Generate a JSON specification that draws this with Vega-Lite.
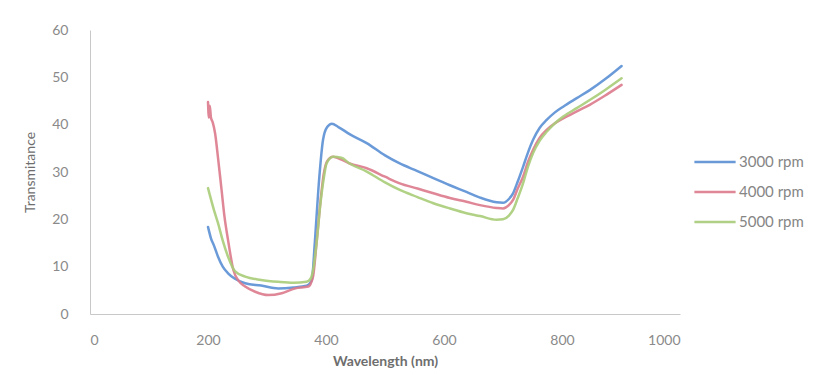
{
  "$schema": "https://vega.github.io/schema/vega-lite/v6.json",
  "autosize": {"type": "none"},
  "width": 590,
  "height": 284,
  "padding": {"left": 90, "top": 30, "right": 148, "bottom": 61},
  "background": "white",
  "config": {
    "view": {"stroke": null},
    "font": "Lato",
    "axis": {"grid": false, "domainColor": "#c8c8c8", "domainWidth": 1, "ticks": false, "labelColor": "#8a8a8a", "labelFontSize": 14, "titleColor": "#6e6e6e", "titleFontSize": 14}
  },
  "data": {
    "values": [
      {"wl": 200, "T": 18.4, "s": "3000 rpm"},
      {"wl": 205, "T": 16.0, "s": "3000 rpm"},
      {"wl": 210, "T": 14.5, "s": "3000 rpm"},
      {"wl": 217, "T": 12.1, "s": "3000 rpm"},
      {"wl": 225, "T": 10.0, "s": "3000 rpm"},
      {"wl": 234, "T": 8.6, "s": "3000 rpm"},
      {"wl": 245, "T": 7.5, "s": "3000 rpm"},
      {"wl": 263, "T": 6.5, "s": "3000 rpm"},
      {"wl": 290, "T": 6.0, "s": "3000 rpm"},
      {"wl": 319, "T": 5.4, "s": "3000 rpm"},
      {"wl": 345, "T": 5.6, "s": "3000 rpm"},
      {"wl": 367, "T": 6.0, "s": "3000 rpm"},
      {"wl": 376, "T": 7.2, "s": "3000 rpm"},
      {"wl": 381, "T": 15.0, "s": "3000 rpm"},
      {"wl": 387, "T": 26.2, "s": "3000 rpm"},
      {"wl": 395, "T": 36.8, "s": "3000 rpm"},
      {"wl": 402, "T": 39.5, "s": "3000 rpm"},
      {"wl": 410, "T": 40.2, "s": "3000 rpm"},
      {"wl": 421, "T": 39.5, "s": "3000 rpm"},
      {"wl": 440, "T": 38.0, "s": "3000 rpm"},
      {"wl": 469, "T": 36.1, "s": "3000 rpm"},
      {"wl": 500, "T": 33.5, "s": "3000 rpm"},
      {"wl": 525, "T": 31.8, "s": "3000 rpm"},
      {"wl": 555, "T": 30.2, "s": "3000 rpm"},
      {"wl": 582, "T": 28.7, "s": "3000 rpm"},
      {"wl": 610, "T": 27.2, "s": "3000 rpm"},
      {"wl": 638, "T": 25.8, "s": "3000 rpm"},
      {"wl": 661, "T": 24.6, "s": "3000 rpm"},
      {"wl": 689, "T": 23.6, "s": "3000 rpm"},
      {"wl": 700, "T": 23.5, "s": "3000 rpm"},
      {"wl": 710, "T": 24.3, "s": "3000 rpm"},
      {"wl": 717, "T": 25.5, "s": "3000 rpm"},
      {"wl": 725, "T": 28.0, "s": "3000 rpm"},
      {"wl": 734, "T": 31.1, "s": "3000 rpm"},
      {"wl": 742, "T": 34.0, "s": "3000 rpm"},
      {"wl": 751, "T": 36.8, "s": "3000 rpm"},
      {"wl": 762, "T": 39.3, "s": "3000 rpm"},
      {"wl": 774, "T": 41.0, "s": "3000 rpm"},
      {"wl": 788, "T": 42.6, "s": "3000 rpm"},
      {"wl": 802, "T": 43.8, "s": "3000 rpm"},
      {"wl": 825, "T": 45.6, "s": "3000 rpm"},
      {"wl": 847, "T": 47.3, "s": "3000 rpm"},
      {"wl": 875, "T": 49.8, "s": "3000 rpm"},
      {"wl": 901, "T": 52.4, "s": "3000 rpm"},

      {"wl": 200, "T": 44.8, "s": "4000 rpm"},
      {"wl": 201.5, "T": 41.5, "s": "4000 rpm"},
      {"wl": 203, "T": 44.0, "s": "4000 rpm"},
      {"wl": 205, "T": 41.5, "s": "4000 rpm"},
      {"wl": 208, "T": 40.5, "s": "4000 rpm"},
      {"wl": 212, "T": 38.2, "s": "4000 rpm"},
      {"wl": 217, "T": 33.0, "s": "4000 rpm"},
      {"wl": 223, "T": 26.2, "s": "4000 rpm"},
      {"wl": 228, "T": 20.5, "s": "4000 rpm"},
      {"wl": 234, "T": 15.6, "s": "4000 rpm"},
      {"wl": 243, "T": 9.3, "s": "4000 rpm"},
      {"wl": 252, "T": 7.0, "s": "4000 rpm"},
      {"wl": 263, "T": 5.8, "s": "4000 rpm"},
      {"wl": 280, "T": 4.7, "s": "4000 rpm"},
      {"wl": 302, "T": 4.0, "s": "4000 rpm"},
      {"wl": 325, "T": 4.4, "s": "4000 rpm"},
      {"wl": 347, "T": 5.4, "s": "4000 rpm"},
      {"wl": 370, "T": 5.8, "s": "4000 rpm"},
      {"wl": 378, "T": 7.9, "s": "4000 rpm"},
      {"wl": 384, "T": 15.0, "s": "4000 rpm"},
      {"wl": 390, "T": 23.0, "s": "4000 rpm"},
      {"wl": 396, "T": 29.5, "s": "4000 rpm"},
      {"wl": 402, "T": 32.3, "s": "4000 rpm"},
      {"wl": 412, "T": 33.2, "s": "4000 rpm"},
      {"wl": 425, "T": 32.7, "s": "4000 rpm"},
      {"wl": 440, "T": 31.8, "s": "4000 rpm"},
      {"wl": 469, "T": 30.8, "s": "4000 rpm"},
      {"wl": 500, "T": 29.0, "s": "4000 rpm"},
      {"wl": 525, "T": 27.6, "s": "4000 rpm"},
      {"wl": 555, "T": 26.5, "s": "4000 rpm"},
      {"wl": 582, "T": 25.5, "s": "4000 rpm"},
      {"wl": 610, "T": 24.5, "s": "4000 rpm"},
      {"wl": 638, "T": 23.7, "s": "4000 rpm"},
      {"wl": 661, "T": 23.0, "s": "4000 rpm"},
      {"wl": 689, "T": 22.4, "s": "4000 rpm"},
      {"wl": 700, "T": 22.3, "s": "4000 rpm"},
      {"wl": 710, "T": 23.0, "s": "4000 rpm"},
      {"wl": 717, "T": 24.1, "s": "4000 rpm"},
      {"wl": 725, "T": 26.5, "s": "4000 rpm"},
      {"wl": 734, "T": 29.0, "s": "4000 rpm"},
      {"wl": 742, "T": 32.0, "s": "4000 rpm"},
      {"wl": 751, "T": 34.7, "s": "4000 rpm"},
      {"wl": 762, "T": 37.2, "s": "4000 rpm"},
      {"wl": 774, "T": 38.9, "s": "4000 rpm"},
      {"wl": 788, "T": 40.3, "s": "4000 rpm"},
      {"wl": 802, "T": 41.3, "s": "4000 rpm"},
      {"wl": 825, "T": 42.8, "s": "4000 rpm"},
      {"wl": 847, "T": 44.2, "s": "4000 rpm"},
      {"wl": 875, "T": 46.3, "s": "4000 rpm"},
      {"wl": 901, "T": 48.4, "s": "4000 rpm"},

      {"wl": 200, "T": 26.6, "s": "5000 rpm"},
      {"wl": 210, "T": 22.0, "s": "5000 rpm"},
      {"wl": 217, "T": 19.2, "s": "5000 rpm"},
      {"wl": 225, "T": 15.5, "s": "5000 rpm"},
      {"wl": 234, "T": 12.1, "s": "5000 rpm"},
      {"wl": 246, "T": 9.0, "s": "5000 rpm"},
      {"wl": 263, "T": 7.9, "s": "5000 rpm"},
      {"wl": 290, "T": 7.2, "s": "5000 rpm"},
      {"wl": 319, "T": 6.8, "s": "5000 rpm"},
      {"wl": 345, "T": 6.6, "s": "5000 rpm"},
      {"wl": 367, "T": 6.8, "s": "5000 rpm"},
      {"wl": 374, "T": 7.5, "s": "5000 rpm"},
      {"wl": 378, "T": 9.2, "s": "5000 rpm"},
      {"wl": 384, "T": 15.0, "s": "5000 rpm"},
      {"wl": 390, "T": 22.7, "s": "5000 rpm"},
      {"wl": 396, "T": 28.5, "s": "5000 rpm"},
      {"wl": 401, "T": 31.8, "s": "5000 rpm"},
      {"wl": 412, "T": 33.2, "s": "5000 rpm"},
      {"wl": 426, "T": 33.0, "s": "5000 rpm"},
      {"wl": 440, "T": 31.8, "s": "5000 rpm"},
      {"wl": 469, "T": 30.1, "s": "5000 rpm"},
      {"wl": 500, "T": 27.8, "s": "5000 rpm"},
      {"wl": 525, "T": 26.2, "s": "5000 rpm"},
      {"wl": 555, "T": 24.7, "s": "5000 rpm"},
      {"wl": 582, "T": 23.4, "s": "5000 rpm"},
      {"wl": 610, "T": 22.3, "s": "5000 rpm"},
      {"wl": 638, "T": 21.3, "s": "5000 rpm"},
      {"wl": 661, "T": 20.7, "s": "5000 rpm"},
      {"wl": 689, "T": 19.9, "s": "5000 rpm"},
      {"wl": 700, "T": 20.0, "s": "5000 rpm"},
      {"wl": 710, "T": 20.8, "s": "5000 rpm"},
      {"wl": 717, "T": 22.0, "s": "5000 rpm"},
      {"wl": 725, "T": 24.5, "s": "5000 rpm"},
      {"wl": 734, "T": 27.6, "s": "5000 rpm"},
      {"wl": 742, "T": 31.0, "s": "5000 rpm"},
      {"wl": 751, "T": 34.0, "s": "5000 rpm"},
      {"wl": 762, "T": 36.6, "s": "5000 rpm"},
      {"wl": 774, "T": 38.5, "s": "5000 rpm"},
      {"wl": 788, "T": 40.3, "s": "5000 rpm"},
      {"wl": 802, "T": 41.7, "s": "5000 rpm"},
      {"wl": 825, "T": 43.5, "s": "5000 rpm"},
      {"wl": 847, "T": 45.2, "s": "5000 rpm"},
      {"wl": 875, "T": 47.5, "s": "5000 rpm"},
      {"wl": 901, "T": 49.8, "s": "5000 rpm"}
    ]
  },
  "mark": {"type": "line", "interpolate": "monotone", "strokeWidth": 2.5, "strokeCap": "round", "opacity": 0.9},
  "encoding": {
    "x": {
      "field": "wl", "type": "quantitative", "title": "Wavelength (nm)",
      "scale": {"domain": [0, 1000], "nice": false},
      "axis": {"values": [0, 200, 400, 600, 800, 1000], "format": "d", "labelPadding": 19, "titlePadding": 7, "titleFontWeight": "bold"}
    },
    "y": {
      "field": "T", "type": "quantitative", "title": "Transmitance",
      "scale": {"domain": [0, 60], "nice": false},
      "axis": {"values": [0, 10, 20, 30, 40, 50, 60], "labelPadding": 22, "titlePadding": 14, "titleFontWeight": "normal"}
    },
    "color": {
      "field": "s", "type": "nominal",
      "scale": {"domain": ["3000 rpm", "4000 rpm", "5000 rpm"], "range": ["#5a8fd4", "#dc7a8c", "#a8cc78"]},
      "legend": {
        "title": null, "orient": "none", "legendX": 603, "legendY": 110,
        "symbolType": "stroke", "symbolSize": 1700, "symbolStrokeWidth": 2.5,
        "labelFontSize": 15, "labelColor": "#858585", "labelOffset": 2, "rowPadding": -5
      }
    }
  }
}
